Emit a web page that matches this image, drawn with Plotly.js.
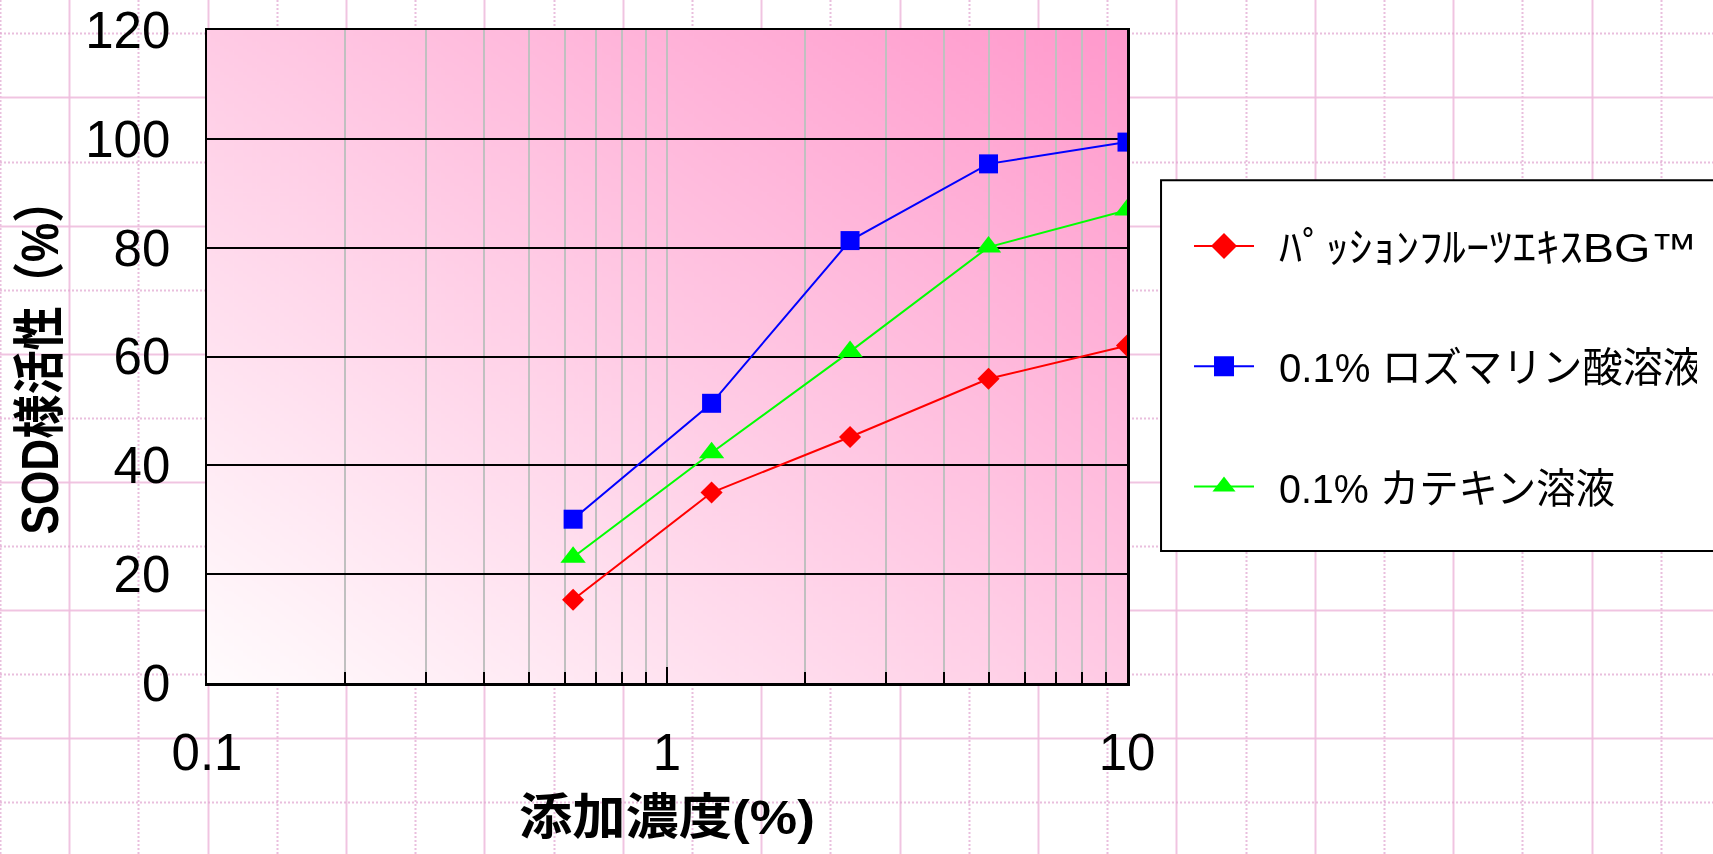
<!DOCTYPE html>
<html><head><meta charset="utf-8">
<script src="https://cdn.plot.ly/plotly-3.0.1.min.js"></script>
<style>
html,body{margin:0;padding:0;background:#fff;overflow:hidden;width:1713px;height:854px}
#bg{position:absolute;left:0;top:0}
#chart{position:absolute;left:0;top:0;width:1713px;height:854px}
</style></head><body>
<canvas id="bg" width="1713" height="854"></canvas>
<div id="chart"></div>
<script>
// ---- data ----
const concentrations = [0.625, 1.25, 2.5, 5, 10];
const passionFruit = [15.3, 35.0, 45.2, 55.9, 62.0];
const rosmarinicAcid = [30.1, 51.4, 81.3, 95.4, 99.4];
const catechin = [23.1, 42.3, 60.9, 80.1, 86.9];
const seriesNames = ['ﾊﾟｯｼｮﾝﾌﾙｰﾂｴｷｽBG™', '0.1% ロズマリン酸溶液', '0.1% カテキン溶液'];
const xTickVals = [0.1, 1, 10];
const xTickText = ['0.1', '1', '10'];
const xMinorVals = [0.2, 0.3, 0.4, 0.5, 0.6, 0.7, 0.8, 0.9, 2, 3, 4, 5, 6, 7, 8, 9];
const yTickVals = [0, 20, 40, 60, 80, 100, 120];
const xTitle = '添加濃度(%)';
const yTitle = 'SOD様活性（%）';

// ---- decorative graph-paper page background ----
(function () {
  const c = document.getElementById('bg');
  const g = c.getContext('2d');
  g.fillStyle = '#ffffff';
  g.fillRect(0, 0, 1713, 854);
  const dx = 69.2, dy = 64.1, y0 = 33.3;
  for (let i = 0; i * dx <= 1713; i++) {
    const x = Math.round(i * dx) + 0.5;
    g.beginPath();
    if (i % 2 === 0) { g.setLineDash([2, 2]); g.strokeStyle = 'rgba(225,170,210,0.75)'; g.lineWidth = 2; }
    else { g.setLineDash([]); g.strokeStyle = 'rgba(238,190,222,0.9)'; g.lineWidth = 2; }
    g.moveTo(x, 0); g.lineTo(x, 854); g.stroke();
  }
  for (let j = -1; y0 + j * dy <= 854; j++) {
    const y = Math.round(y0 + j * dy) + 0.5;
    g.beginPath();
    if (j % 2 === 0) { g.setLineDash([2, 2]); g.strokeStyle = 'rgba(225,170,210,0.75)'; g.lineWidth = 2; }
    else { g.setLineDash([]); g.strokeStyle = 'rgba(238,190,222,0.9)'; g.lineWidth = 2; }
    g.moveTo(0, y); g.lineTo(1713, y); g.stroke();
  }
})();

// ---- plot-area gradient image ----
function gradientURL() {
  const c = document.createElement('canvas');
  c.width = 400; c.height = 400;
  const g = c.getContext('2d');
  const gr = g.createLinearGradient(0, 400, 400, 0);
  gr.addColorStop(0, '#fffcfd');
  gr.addColorStop(1, '#ff99cc');
  g.fillStyle = gr;
  g.fillRect(0, 0, 400, 400);
  return c.toDataURL('image/png');
}

const FONT = "'Liberation Sans', Arial, 'Noto Sans CJK JP', sans-serif";

const traces = [
  {x: concentrations, y: passionFruit, name: seriesNames[0], legendgroup: 'a',
   type: 'scatter', mode: 'lines+markers',
   line: {color: '#ff0000', width: 2},
   marker: {symbol: 'diamond', size: 17, color: '#ff0000'}},
  {x: concentrations, y: rosmarinicAcid, name: seriesNames[1], legendgroup: 'b',
   type: 'scatter', mode: 'lines+markers',
   line: {color: '#0000ff', width: 2},
   marker: {symbol: 'square', size: 19, color: '#0000ff'}},
  {x: concentrations, y: catechin, name: seriesNames[2], legendgroup: 'c',
   type: 'scatter', mode: 'lines+markers',
   line: {color: '#00ff00', width: 2},
   marker: {symbol: 'triangle-up', size: 22, color: '#00ff00'}}
];

const layout = {
  width: 1713, height: 854,
  margin: {l: 207, r: 586, t: 30, b: 171, autoexpand: false},
  paper_bgcolor: 'rgba(0,0,0,0)',
  plot_bgcolor: 'rgba(0,0,0,0)',
  font: {family: FONT, color: '#000'},
  showlegend: true,
  xaxis: {
    type: 'log', range: [-1, 1],
    tickmode: 'array', tickvals: xTickVals, ticktext: xTickText,
    ticks: 'inside', ticklen: 16, tickwidth: 2, tickcolor: '#000',
    showgrid: true, gridcolor: '#c0c0c0', gridwidth: 2,
    minor: {tickmode: 'array', tickvals: xMinorVals, ticks: 'inside', ticklen: 11, tickwidth: 2,
            tickcolor: '#000', showgrid: true, gridcolor: '#c0c0c0', gridwidth: 2},
    showline: true, mirror: true, linecolor: '#000', linewidth: 2.5,
    zeroline: false,
    tickfont: {family: FONT, size: 51, color: '#000'},
    ticklabelstandoff: 23,
    title: {text: xTitle, font: {family: FONT, size: 49, weight: 'bold', color: '#000'}, standoff: 20}
  },
  yaxis: {
    range: [0, 120],
    tickmode: 'array', tickvals: yTickVals,
    ticks: '', showgrid: true, gridcolor: '#000', gridwidth: 2,
    showline: true, mirror: true, linecolor: '#000', linewidth: 2.5,
    zeroline: false,
    tickfont: {family: FONT, size: 51, color: '#000'},
    ticklabelstandoff: 24,
    title: {text: yTitle, font: {family: FONT, size: 52, weight: 'bold', color: '#000'}, standoff: 10}
  },
  legend: {
    x: 1.0674, xanchor: 'left', xref: 'paper',
    y: 0.72, yanchor: 'top', yref: 'paper',
    bgcolor: 'rgba(0,0,0,0)', borderwidth: 0,
    font: {family: FONT, size: 41, color: '#000'},
    itemwidth: 60, tracegroupgap: 64, traceorder: 'grouped'
  },
  shapes: [{
    type: 'rect', xref: 'paper', yref: 'paper', layer: 'above',
    x0: 1.037, x1: 1.75, y0: 0.202, y1: 0.770,
    fillcolor: '#ffffff', line: {color: '#000', width: 2}
  }],
  images: [{
    source: gradientURL(), xref: 'paper', yref: 'paper',
    x: 0, y: 1, sizex: 1, sizey: 1, xanchor: 'left', yanchor: 'top',
    sizing: 'stretch', layer: 'below'
  }]
};

// condensed / widened text to mimic the original typeface proportions
function fitText(el, len) {
  if (!el) return;
  el.setAttribute('textLength', len);
  el.setAttribute('lengthAdjust', 'spacingAndGlyphs');
}

Plotly.newPlot('chart', traces, layout, {displayModeBar: false, staticPlot: true}).then(function (gd) {
  fitText(gd.querySelector('text.ytitle'), 356);
  fitText(gd.querySelector('text.xtitle'), 296);
  const legTexts = gd.querySelectorAll('text.legendtext');
  const legLens = [418, 424, 336];
  legTexts.forEach(function (t, i) { fitText(t, legLens[i]); t.setAttribute('dx', 20); });
  gd.querySelectorAll('g.legendpoints path.scatterpts').forEach(function (p) {
    const tr = p.getAttribute('transform') || '';
    p.setAttribute('transform', tr + ' scale(1.25)');
  });
});
</script>
</body></html>
